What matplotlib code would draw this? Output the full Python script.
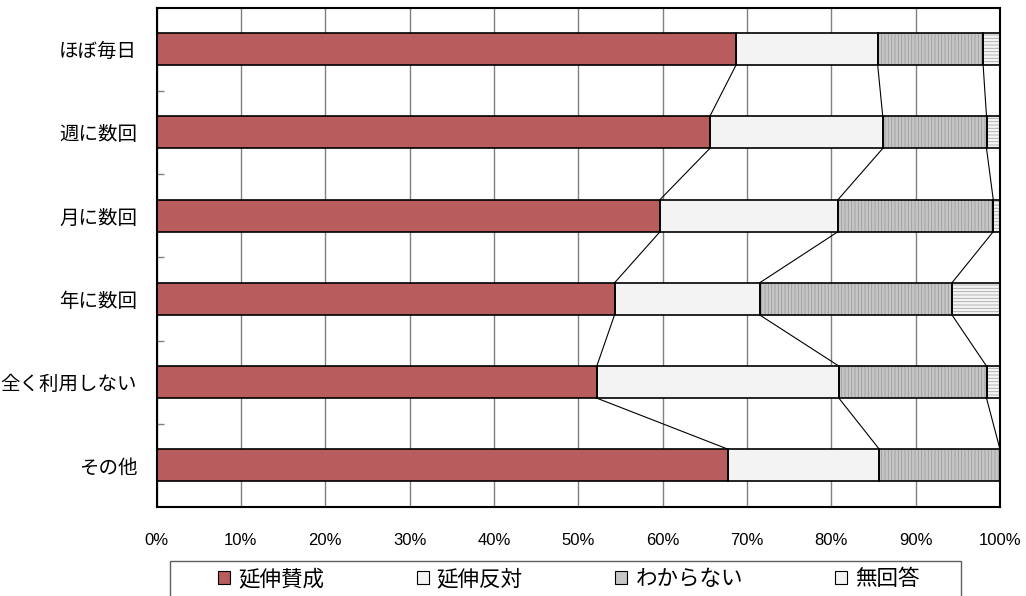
import matplotlib
matplotlib.use("Agg")
import matplotlib.pyplot as plt
from matplotlib.patches import Patch, Rectangle
from matplotlib.ticker import FixedLocator, FuncFormatter
import numpy as np

# ---- data (percent) ----
categories = ['ほぼ毎日', '週に数回', '月に数回', '年に数回', '全く利用しない', 'その他']
series_names = ['延伸賛成', '延伸反対', 'わからない', '無回答']
favor   = [68.7, 65.6, 59.7, 54.3, 52.2, 67.8]
oppose  = [16.8, 20.5, 21.1, 17.2, 28.7, 17.9]
unknown = [12.5, 12.3, 18.4, 22.8, 17.5, 14.3]
noans   = [2.0, 1.6, 0.8, 5.7, 1.6, 0.0]
x_ticks = [0, 10, 20, 30, 40, 50, 60, 70, 80, 90, 100]

# ---- styles ----
face_colors  = ['#B85C5E', '#F3F3F3', '#C6C6C6', '#F4F4F4']
hatch_colors = ['#A34B4D', '#E2E2E2', '#9C9C9C', '#A8A8A8']
hatches      = [None, None, '|||||', '-----']

plt.rcParams['hatch.linewidth'] = 0.6
JP = ['Noto Sans CJK JP', 'DejaVu Sans']

fig = plt.figure(figsize=(10.26, 5.96), dpi=100)
ax = fig.add_axes([156.5 / 1026, 1 - 507 / 596, (1000 - 156.5) / 1026, (507 - 7.5) / 596])

data = [favor, oppose, unknown, noans]
y = np.arange(len(categories))
h = 0.385
left = np.zeros(len(categories))
cums = []
for vals, fc, hc, ht in zip(data, face_colors, hatch_colors, hatches):
    vals = np.array(vals)
    ax.barh(y, vals, left=left, height=h, color=fc, edgecolor=hc, hatch=ht,
            linewidth=0, zorder=2)
    ax.barh(y, vals, left=left, height=h, fill=False, edgecolor='black',
            linewidth=1.2, zorder=3)
    left = left + vals
    cums.append(left.copy())

# connector lines between boundaries of adjacent bars
for k in range(3):
    c = cums[k]
    for r in range(len(categories) - 1):
        ax.plot([c[r], c[r + 1]], [r + h / 2, r + 1 - h / 2], color='black',
                linewidth=0.8, zorder=4)

ax.set_xlim(0, 100)
ax.set_ylim(len(categories) - 0.5, -0.5)

ax.xaxis.set_major_locator(FixedLocator(x_ticks))
ax.xaxis.set_major_formatter(FuncFormatter(lambda v, p: f'{int(round(v))}%'))
ax.tick_params(axis='x', length=0, pad=19, labelsize=12)
for lab in ax.get_xticklabels():
    lab.set_family('Liberation Sans')
ax.grid(axis='x', color='#808080', linewidth=1.0, zorder=0)
ax.set_axisbelow(True)

ax.set_yticks(y)
ax.set_yticklabels(categories, fontsize=14, family=JP)
ax.tick_params(axis='y', which='major', length=0, pad=14)
ax.yaxis.set_minor_locator(FixedLocator(np.arange(0.5, len(categories) - 1, 1.0)))
ax.tick_params(axis='y', which='minor', direction='in', length=5, width=1, color='#808080')

for s in ax.spines.values():
    s.set_color('black')
    s.set_linewidth(1.5)
    s.set_zorder(5)

# legend
handles = [Patch(facecolor=fc, edgecolor='black', linewidth=0.8) for fc in face_colors]
fig.patches.append(Rectangle((170 / 1026, 1 - 600 / 596), (961 - 170) / 1026, (600 - 561) / 596,
                             transform=fig.transFigure, fill=False, edgecolor='#606060',
                             linewidth=1.0))
leg = fig.legend(handles, series_names, loc='center', ncol=4,
                 bbox_to_anchor=(569 / 1026, 1 - 579 / 596), frameon=False,
                 prop={'family': JP, 'size': 15.5}, handlelength=0.56, handleheight=0.56,
                 handletextpad=0.37, columnspacing=4.3, borderpad=0, borderaxespad=0)

fig.savefig('out.png', dpi=100)
